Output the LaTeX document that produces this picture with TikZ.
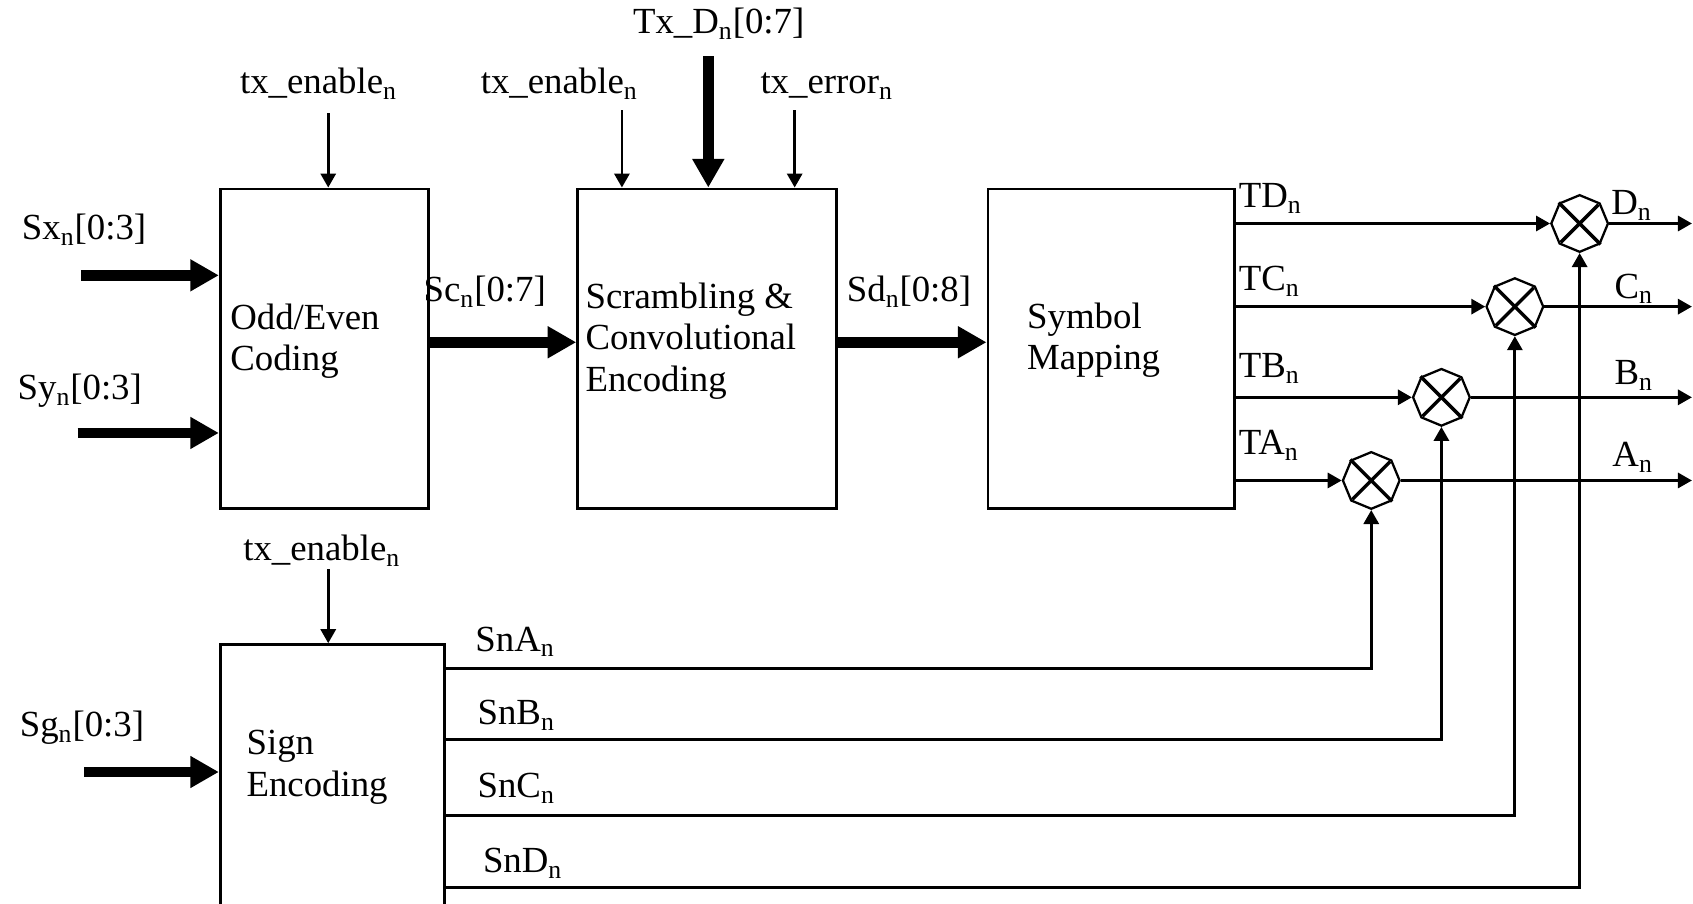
\documentclass[tikz,border=0pt]{standalone}
\usepackage{fontspec}
\setmainfont{Liberation Serif}
\usepackage{tikz}
\usetikzlibrary{arrows.meta,shapes.geometric,positioning}
\tikzstyle{block}=[rectangle, line width=1.5pt, draw=black, minimum height=5.92cm, inner sep=0pt]
\tikzstyle{mult}=[regular polygon, regular polygon sides=8, shape border rotate=22.5, draw=black, line width=1.2pt, minimum size=1.05cm, inner sep=0pt]
\tikzstyle{lbl}=[anchor=base west, inner sep=0pt]
\tikzstyle{txt}=[anchor=west, align=left, inner sep=0pt]
\tikzstyle{bus}=[line width=0.2cm, -{Triangle[length=0.53cm,width=0.56cm]}]
\tikzstyle{sig}=[line width=1.5pt, -{Triangle[length=0.26cm,width=0.28cm]}]
\newcommand{\sbn}{\textsubscript{n}}

\begin{document}
\begin{tikzpicture}[x=0.02cm,y=-0.02cm,font=\fontsize{19.4}{21.8}\selectfont]
     \path[use as bounding box,clip] (0,0) rectangle (1568,837);
     \node (oe) [block, minimum width=3.86cm] at (300.5,323) {};
     \node (scr) [block, minimum width=4.8cm] at (655,323) {};
     \node (map) [block, minimum width=4.56cm] at (1029,323) {};
     \node (sgn) [block, minimum width=4.16cm, minimum height=5.4cm] at (308,732) {};
     \node (oet) [txt] at (213,316) {Odd/Even\\Coding};
     \node (scrt) [txt] at (542,316) {Scrambling \&\\Convolutional\\Encoding};
     \node (mapt) [txt] at (951,315) {Symbol\\Mapping};
     \node (sgnt) [txt] at (228,710.5) {Sign\\Encoding};

     \node (sxl) [lbl] at (20,222) {Sx\sbn[0:3]};
     \node (syl) [lbl] at (16,370) {Sy\sbn[0:3]};
     \node (sgl) [lbl] at (18,682) {Sg\sbn[0:3]};
     \node (scl) [lbl] at (392,279) {Sc\sbn[0:7]};
     \node (sdl) [lbl] at (784,279) {Sd\sbn[0:8]};
     \node (txdl) [lbl] at (586,31) {Tx\_D\sbn[0:7]};
     \node (en1) [lbl] at (222,87) {tx\_enable\sbn};
     \node (en2) [lbl] at (445,87) {tx\_enable\sbn};
     \node (err) [lbl] at (704,87) {tx\_error\sbn};
     \node (en3) [lbl] at (225,519) {tx\_enable\sbn};
     \node (tdl) [lbl] at (1147,192) {TD\sbn};
     \node (tcl) [lbl] at (1147,269) {TC\sbn};
     \node (tbl) [lbl] at (1147,350) {TB\sbn};
     \node (tal) [lbl] at (1147,421) {TA\sbn};
     \node (dl) [lbl] at (1492,199) {D\sbn};
     \node (cl) [lbl] at (1495,276) {C\sbn};
     \node (bl) [lbl] at (1495,356) {B\sbn};
     \node (al) [lbl] at (1493,432) {A\sbn};
     \node (snal) [lbl] at (440,603) {SnA\sbn};
     \node (snbl) [lbl] at (442,671) {SnB\sbn};
     \node (sncl) [lbl] at (442,739) {SnC\sbn};
     \node (sndl) [lbl] at (447,808) {SnD\sbn};

     \node (mA) [mult] at (1270,445) {};
     \node (mB) [mult] at (1335,368) {};
     \node (mC) [mult] at (1403,284) {};
     \node (mD) [mult] at (1463,207) {};

     \coordinate (sx) at (75,255);
     \coordinate (sy) at (72,401);
     \coordinate (sg) at (78,715);
     \coordinate (txd) at (656,52);
     \coordinate (en1s) at (304,105);
     \coordinate (en2s) at (576,102);
     \coordinate (errs) at (736,102);
     \coordinate (en3s) at (304,527);
     \coordinate (rt) at (1567,0);
     \coordinate (yA) at (0,619);
     \coordinate (yB) at (0,685);
     \coordinate (yC) at (0,755);
     \coordinate (yD) at (0,822);

     \draw[bus] (sx) -- (sx -| oe.west);
     \draw[bus] (sy) -- (sy -| oe.west);
     \draw[bus] (sg) -- (sg -| sgn.west);
     \draw[bus] (oe.east |- 0,317) -- (scr.west |- 0,317);
     \draw[bus] (scr.east |- 0,317) -- (map.west |- 0,317);
     \draw[bus] (txd) -- (txd |- scr.north);
     \draw[sig] (en1s) -- (en1s |- oe.north);
     \draw[sig] (en2s) -- (en2s |- scr.north);
     \draw[sig] (errs) -- (errs |- scr.north);
     \draw[sig] (en3s) -- (en3s |- sgn.north);

     \foreach \m in {mA,mB,mC,mD} {
       \draw[sig] (\m -| map.east) -- (\m);
       \draw[sig] (\m) -- (\m -| rt);
       \draw[line width=1.8pt, shorten <=1.5pt, shorten >=1.5pt] (\m.135) -- (\m.-45) (\m.45) -- (\m.-135);
     }
     \draw[sig] (sgn.east |- yA) -| (mA);
     \draw[sig] (sgn.east |- yB) -| (mB);
     \draw[sig] (sgn.east |- yC) -| (mC);
     \draw[sig] (sgn.east |- yD) -| (mD);
\end{tikzpicture}
\end{document}
